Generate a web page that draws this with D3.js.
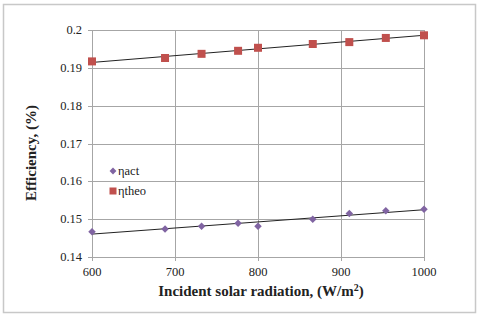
<!DOCTYPE html>
<html>
<head>
<meta charset="utf-8">
<script src="https://cdn.jsdelivr.net/npm/d3@7"></script>
<style>
  body { margin: 0; background: #fff; }
  svg text { font-family: "Liberation Serif", serif; fill: #222; }
</style>
</head>
<body>
<div id="chart"></div>
<script>
// data
const radiation = [600, 688, 732, 776, 800, 866, 910, 954, 1000];
const etaAct    = [0.1467, 0.1474, 0.1481, 0.1489, 0.1481, 0.1500, 0.1515, 0.1522, 0.1526];
const etaTheo   = [0.1917, 0.1926, 0.1937, 0.1945, 0.1953, 0.1963, 0.1968, 0.1979, 0.1986];
const xTicks = [600, 700, 800, 900, 1000];
const yTicks = [0.14, 0.15, 0.16, 0.17, 0.18, 0.19, 0.2];

const config = { width: 480, height: 316, left: 92, right: 424, top: 30, bottom: 257 };

const svg = d3.select('#chart').append('svg')
  .attr('width', config.width)
  .attr('height', config.height);

// outer frame
svg.append('rect')
  .attr('x', 3.5).attr('y', 4.5)
  .attr('width', 472).attr('height', 308)
  .attr('fill', '#fff')
  .attr('stroke', '#c8c8c8')
  .attr('stroke-width', 1.5);

const x = d3.scaleLinear().domain([600, 1000]).range([config.left, config.right]);
const y = d3.scaleLinear().domain([0.14, 0.2]).range([config.bottom, config.top]);

// gridlines
svg.append('g').selectAll('line.h')
  .data(yTicks)
  .join('line')
  .attr('x1', config.left - 4).attr('x2', config.right)
  .attr('y1', d => Math.round(y(d)) + 0.5).attr('y2', d => Math.round(y(d)) + 0.5)
  .attr('stroke', '#a6a6a6');

svg.append('g').selectAll('line.v')
  .data(xTicks)
  .join('line')
  .attr('y1', config.top).attr('y2', config.bottom + 4)
  .attr('x1', d => Math.round(x(d)) + 0.5).attr('x2', d => Math.round(x(d)) + 0.5)
  .attr('stroke', '#a6a6a6');

// tick labels
svg.append('g').selectAll('text')
  .data(yTicks)
  .join('text')
  .attr('x', config.left - 10)
  .attr('y', d => y(d) + 4)
  .attr('text-anchor', 'end')
  .style('font-size', '12.5px')
  .text(d => d3.format('')(d));

svg.append('g').selectAll('text')
  .data(xTicks)
  .join('text')
  .attr('x', d => x(d))
  .attr('y', config.bottom + 19)
  .attr('text-anchor', 'middle')
  .style('font-size', '12.5px')
  .text(d => d);

// linear trendlines
function fit(xs, ys) {
  const mx = d3.mean(xs), my = d3.mean(ys);
  const b = d3.sum(xs, (v, i) => (v - mx) * (ys[i] - my)) / d3.sum(xs, v => (v - mx) * (v - mx));
  return v => my + b * (v - mx);
}
const line = d3.line().x(d => x(d[0])).y(d => y(d[1]));
[etaAct, etaTheo].forEach(vals => {
  const f = fit(radiation, vals);
  svg.append('path')
    .attr('d', line([[600, f(600)], [1000, f(1000)]]))
    .attr('fill', 'none')
    .attr('stroke', '#222')
    .attr('stroke-width', 1);
});

// markers
const diamond = d3.symbol().type(d3.symbolDiamond2).size(36);
svg.append('g').selectAll('path')
  .data(radiation.map((r, i) => [r, etaAct[i]]))
  .join('path')
  .attr('d', diamond)
  .attr('transform', d => `translate(${x(d[0])},${y(d[1])})`)
  .attr('fill', '#8064a2');

svg.append('g').selectAll('rect')
  .data(radiation.map((r, i) => [r, etaTheo[i]]))
  .join('rect')
  .attr('x', d => x(d[0]) - 4).attr('y', d => y(d[1]) - 4)
  .attr('width', 8).attr('height', 8)
  .attr('fill', '#c0504d');

// legend
const legend = svg.append('g').attr('transform', 'translate(113, 171)');
legend.append('path').attr('d', d3.symbol().type(d3.symbolDiamond2).size(30)).attr('fill', '#8064a2');
legend.append('text').attr('x', 5).attr('y', 4).style('font-size', '12.5px').text('ηact');
legend.append('rect').attr('x', -3.5).attr('y', 16.5).attr('width', 7).attr('height', 7).attr('fill', '#c0504d');
legend.append('text').attr('x', 5).attr('y', 24).style('font-size', '12.5px').text('ηtheo');

// axis titles
svg.append('text')
  .attr('x', 261).attr('y', 296)
  .attr('text-anchor', 'middle')
  .style('font-size', '15px').style('font-weight', 'bold')
  .html('Incident solar radiation, (W/m<tspan dy="-5" font-size="10px">2</tspan><tspan dy="5">)</tspan>');

svg.append('text')
  .attr('transform', 'translate(36, 153) rotate(-90)')
  .attr('text-anchor', 'middle')
  .style('font-size', '15px').style('font-weight', 'bold')
  .text('Efficiency, (%)');
</script>
</body>
</html>
